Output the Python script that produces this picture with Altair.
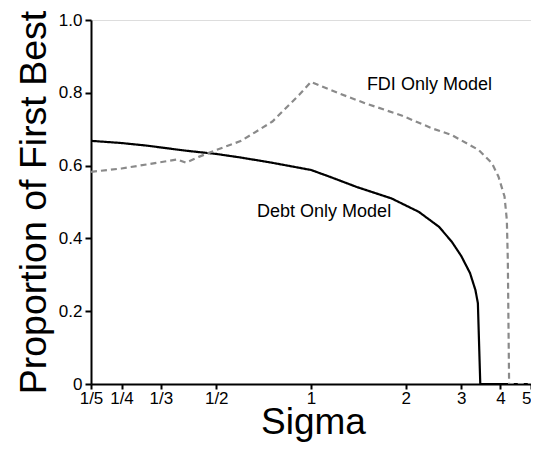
import altair as alt
import pandas as pd

FONT = "Liberation Sans, Arial, sans-serif"

# Debt Only Model (solid black)
debt_sigma = [0.2, 0.25, 0.3, 0.4, 0.5, 0.6, 0.75, 1.0, 1.15, 1.4, 1.8, 2.2, 2.55, 2.8, 3.0, 3.2, 3.33, 3.39, 3.45, 5.0]
debt_value = [0.668, 0.662, 0.655, 0.641, 0.632, 0.622, 0.608, 0.588, 0.569, 0.541, 0.510, 0.473, 0.432, 0.391, 0.352, 0.305, 0.258, 0.222, 0.0, 0.0]

# FDI Only Model (dashed grey)
fdi_sigma = [0.2, 0.25, 0.3, 0.376, 0.40, 0.44, 0.5, 0.6, 0.754, 0.916, 1.0, 1.23, 1.49, 1.95, 2.43, 2.8, 3.41, 3.76, 3.94, 4.12, 4.19, 4.22, 4.26, 5.0]
fdi_value = [0.583, 0.592, 0.603, 0.617, 0.608, 0.624, 0.643, 0.668, 0.721, 0.794, 0.830, 0.798, 0.771, 0.737, 0.702, 0.684, 0.643, 0.606, 0.570, 0.515, 0.45, 0.34, 0.0, 0.0]

x_ticks = [0.2, 0.25, 1/3, 0.5, 1, 2, 3, 4, 5]
y_ticks = [0, 0.2, 0.4, 0.6, 0.8, 1.0]

label_text = ["FDI Only Model", "Debt Only Model"]
label_sigma = [1.505, 0.674]
label_value = [0.808, 0.459]

df = pd.concat([
    pd.DataFrame({"sigma": debt_sigma, "value": debt_value, "series": "Debt Only Model"}),
    pd.DataFrame({"sigma": fdi_sigma, "value": fdi_value, "series": "FDI Only Model"}),
])
labels = pd.DataFrame({"sigma": label_sigma, "value": label_value, "text": label_text})

xscale = alt.Scale(type="log", domain=[0.2, 5], nice=False)
yscale = alt.Scale(domain=[0, 1], nice=False)

xaxis = alt.Axis(
    title="Sigma", values=x_ticks, grid=False,
    labelExpr="datum.value < 0.21 ? '1/5' : datum.value < 0.26 ? '1/4' : datum.value < 0.34 ? '1/3' : datum.value < 0.6 ? '1/2' : format(datum.value, 'd')",
    labelAlign={"condition": {"test": "datum.value > 4.5", "value": "right"}, "value": "center"},
    labelFlush=False, labelOverlap=False, tickSize=5, tickWidth=2, domainWidth=2,
    domainColor="black", tickColor="black", labelColor="black", labelFontSize=17,
    labelFont=FONT, labelPadding=1, titleFont=FONT, titleFontSize=37,
    titleFontWeight="normal", titleColor="black",
    titleBaseline="alphabetic", titleY=49, titleX=222, titleAlign="center",
)
yaxis = alt.Axis(
    title="Proportion of First Best", values=y_ticks, grid=False,
    labelExpr="datum.value == 0 ? '0' : format(datum.value, '.1f')",
    labelFlush=False, labelOverlap=False, tickSize=6, tickWidth=2, domainWidth=2,
    domainColor="black", tickColor="black", labelColor="black", labelFontSize=17,
    labelFont=FONT, labelPadding=3, titleFont=FONT, titleFontSize=37.5,
    titleFontWeight="normal", titleColor="black",
    titleBaseline="alphabetic", titleX=-46, titleY=182, titleAlign="center", titleAngle=270,
)

lines = alt.Chart(df).mark_line(strokeWidth=2.2, clip=True).encode(
    x=alt.X("sigma:Q", scale=xscale, axis=xaxis),
    y=alt.Y("value:Q", scale=yscale, axis=yaxis),
    color=alt.Color("series:N", scale=alt.Scale(domain=["Debt Only Model", "FDI Only Model"], range=["#000000", "#8a8a8a"]), legend=None),
    strokeDash=alt.StrokeDash("series:N", scale=alt.Scale(domain=["Debt Only Model", "FDI Only Model"], range=[[1, 0], [6, 4]]), legend=None),
    detail="series:N",
)

text = alt.Chart(labels).mark_text(align="left", baseline="alphabetic", fontSize=18, font=FONT, color="black").encode(
    x=alt.X("sigma:Q", scale=xscale),
    y=alt.Y("value:Q", scale=yscale),
    text="text:N",
)

chart = alt.layer(lines, text).properties(
    width=440, height=364,
    autosize=alt.AutoSizeParams(type="none"),
    padding={"left": 83, "top": 12, "right": 0, "bottom": 58},
).configure_view(stroke=None).configure(background="white")

chart.save("out.html", embed_options={"renderer": "svg", "actions": False})
